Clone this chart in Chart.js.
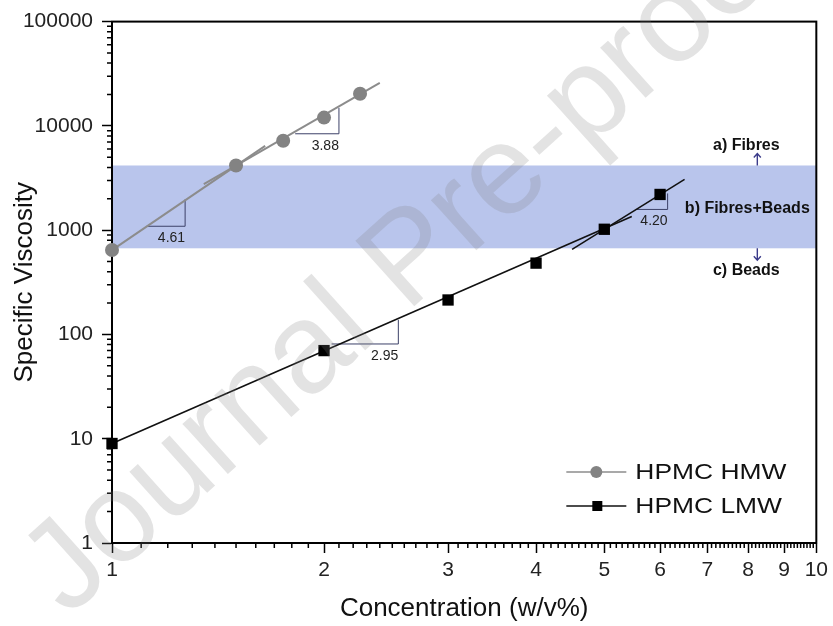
<!DOCTYPE html>
<html>
<head>
<meta charset="utf-8">
<script src="https://cdn.jsdelivr.net/npm/chart.js@4.4.1/dist/chart.umd.min.js"></script>
<style>
  html, body { margin: 0; padding: 0; background: #fff; }
  #wrap { width: 833px; height: 626px; }
</style>
</head>
<body>
<div id="wrap"><canvas id="chart"></canvas></div>
<script>
/* data */
const hmwConc = [1, 1.5, 1.75, 2, 2.25];
const hmwVisc = [645, 4170, 7200, 12000, 20300];
const lmwConc = [1, 2, 3, 4, 5, 6];
const lmwVisc = [9, 70, 214, 483, 1020, 2200];

// fitted power-law segments (start / end as drawn)
const fitHmwLowX = [1, 1.65];
const fitHmwLowY = [643, 6420];
const fitHmwHighX = [1.35, 2.4];
const fitHmwHighY = [2770, 25800];
const fitLmwLowX = [1, 5.47];
const fitLmwLowY = [9, 1354];
const fitLmwHighX = [4.5, 6.5];
const fitLmwHighY = [655, 3070];

// slope triangles: [left, corner, top]
const slopeLabels = ['4.61', '3.88', '2.95', '4.20'];
const slopeTriX = [[1.12, 1.27, 1.27], [1.82, 2.1, 2.1], [2.05, 2.55, 2.55], [5.55, 6.15, 6.15]];
const slopeTriY = [[1090, 1090, 1970], [8400, 8400, 14900], [81, 81, 138], [1580, 1580, 2250]];

const bandLow = 670;
const bandHigh = 4170;
const regionLabels = ['a) Fibres', 'b) Fibres+Beads', 'c) Beads'];

const xMajor = [1, 2, 3, 4, 5, 6, 7, 8, 9, 10];
const yMajor = [1, 10, 100, 1000, 10000, 100000];

const FONT = 'Arial, "Liberation Sans", sans-serif';
const toPts = (xs, ys) => xs.map((x, i) => ({ x: x, y: ys[i] }));

function lineSet(xs, ys, color, width) {
    return {
        data: toPts(xs, ys), showLine: true, borderColor: color, borderWidth: width,
        pointRadius: 0, fill: false, clip: false
    };
}

const markerSets = [
    { label: 'HPMC HMW', data: toPts(hmwConc, hmwVisc), pointStyle: 'circle', pointRadius: 7,
      backgroundColor: '#838383', borderColor: '#838383', borderWidth: 0, showLine: false, clip: false, lineColor: '#8c8c8c' },
    { label: 'HPMC LMW', data: toPts(lmwConc, lmwVisc), pointStyle: 'rect', pointRadius: 8,
      backgroundColor: '#000', borderColor: '#000', borderWidth: 0, showLine: false, clip: false, lineColor: '#111' }
];

const datasets = markerSets.concat([
    lineSet(fitHmwLowX, fitHmwLowY, '#8c8c8c', 2),
    lineSet(fitHmwHighX, fitHmwHighY, '#8c8c8c', 2),
    lineSet(fitLmwLowX, fitLmwLowY, '#111', 1.6),
    lineSet(fitLmwHighX, fitLmwHighY, '#111', 1.6)
]);
slopeTriX.forEach((xs, i) => datasets.push(lineSet(xs, slopeTriY[i], '#3c4168', 1)));

/* === background band, frame, minor ticks === */
const backdrop = {
    id: 'backdrop',
    beforeDatasetsDraw(chart) {
        const { ctx, chartArea: a, scales: { x, y } } = chart;
        ctx.save();
        const yTop = y.getPixelForValue(bandHigh), yBot = y.getPixelForValue(bandLow);
        ctx.fillStyle = '#b9c5ec';
        ctx.fillRect(a.left, yTop, a.right - a.left, yBot - yTop);

        ctx.strokeStyle = '#000';
        ctx.lineWidth = 2;
        ctx.strokeRect(a.left, a.top, a.right - a.left, a.bottom - a.top);

        ctx.lineWidth = 1.5;
        ctx.beginPath();
        for (let d = 1; d < 10; d++) {
            for (let k = 1; k < 10; k++) {
                const px = x.getPixelForValue(d + k / 10);
                ctx.moveTo(px, a.bottom);
                ctx.lineTo(px, a.bottom + 5);
            }
        }
        for (let e = 0; e < 5; e++) {
            for (let k = 2; k < 10; k++) {
                const py = y.getPixelForValue(k * Math.pow(10, e));
                ctx.moveTo(a.left, py);
                ctx.lineTo(a.left - 5, py);
            }
        }
        ctx.stroke();
        ctx.restore();
    }
};

/* === slope labels, region notes, legend, watermark === */
const overlay = {
    id: 'overlay',
    afterDraw(chart) {
        const { ctx, chartArea: a, scales: { x, y } } = chart;
        ctx.save();

        // slope values under each triangle
        ctx.fillStyle = '#222';
        ctx.font = '14px ' + FONT;
        ctx.textAlign = 'right';
        ctx.textBaseline = 'middle';
        slopeLabels.forEach((t, i) => {
            const cx = x.getPixelForValue(slopeTriX[i][1]);
            const cy = y.getPixelForValue(slopeTriY[i][1]);
            ctx.fillText(t, cx, cy + 12);
        });

        // region notes at the right
        const yTop = y.getPixelForValue(bandHigh), yBot = y.getPixelForValue(bandLow);
        const nx = a.right - 70;
        ctx.fillStyle = '#111';
        ctx.font = 'bold 16px ' + FONT;
        ctx.textAlign = 'center';
        ctx.fillText(regionLabels[0], nx, yTop - 20);
        ctx.fillText(regionLabels[1], nx + 1, (yTop + yBot) / 2 + 2);
        ctx.fillText(regionLabels[2], nx, yBot + 22);

        // little arrows pointing out of the band
        ctx.strokeStyle = '#3b3b8a';
        ctx.lineWidth = 1.4;
        const ax = a.right - 59;
        ctx.beginPath();
        ctx.moveTo(ax, yTop); ctx.lineTo(ax, yTop - 12);
        ctx.moveTo(ax - 3.5, yTop - 8); ctx.lineTo(ax, yTop - 12); ctx.lineTo(ax + 3.5, yTop - 8);
        ctx.moveTo(ax, yBot); ctx.lineTo(ax, yBot + 12);
        ctx.moveTo(ax - 3.5, yBot + 8); ctx.lineTo(ax, yBot + 12); ctx.lineTo(ax + 3.5, yBot + 8);
        ctx.stroke();

        // legend
        const lx = a.right - 250, ly0 = a.bottom - 71, gap = 34;
        markerSets.forEach((ds, i) => {
            const ly = ly0 + i * gap;
            ctx.strokeStyle = ds.lineColor;
            ctx.lineWidth = 1.3;
            ctx.beginPath();
            ctx.moveTo(lx, ly); ctx.lineTo(lx + 60, ly);
            ctx.stroke();
            ctx.fillStyle = ds.backgroundColor;
            if (ds.pointStyle === 'circle') {
                ctx.beginPath(); ctx.arc(lx + 30, ly, 6, 0, Math.PI * 2); ctx.fill();
            } else {
                ctx.fillRect(lx + 26, ly - 5, 10, 10);
            }
            ctx.save();
            ctx.translate(lx + 69, ly);
            ctx.scale(1.2, 1);
            ctx.fillStyle = '#111';
            ctx.font = '22px ' + FONT;
            ctx.textAlign = 'left';
            ctx.fillText(ds.label, 0, 1);
            ctx.restore();
        });

        // watermark
        ctx.save();
        ctx.translate(68, 618);
        ctx.rotate(-42 * Math.PI / 180);
        ctx.fillStyle = 'rgba(128,128,128,0.22)';
        ctx.font = '128px ' + FONT;
        ctx.textAlign = 'left';
        ctx.textBaseline = 'alphabetic';
        ctx.fillText('Journal Pre-proof', 0, 0);
        ctx.restore();

        ctx.restore();
    }
};

new Chart(document.getElementById('chart'), {
    type: 'scatter',
    data: { datasets: datasets },
    options: {
        responsive: true,
        maintainAspectRatio: false,
        animation: false,
        layout: { padding: { top: 20, right: 15, left: 0, bottom: 0 } },
        plugins: { legend: { display: false }, tooltip: { enabled: false } },
        scales: {
            x: {
                type: 'logarithmic', min: 1, max: 10,
                afterBuildTicks: s => { s.ticks = xMajor.map(v => ({ value: v })); },
                afterFit: s => { s.height = 83; },
                grid: { drawOnChartArea: false, tickLength: 10, tickWidth: 1.5, tickColor: '#000' },
                border: { color: '#000', width: 2 },
                ticks: {
                    autoSkip: false, maxRotation: 0, padding: 5, color: '#222',
                    font: { family: FONT, size: 21 },
                    callback: v => String(v)
                },
                title: {
                    display: true, text: 'Concentration (w/v%)', color: '#111',
                    font: { family: FONT, size: 26 },
                    padding: { top: 0, bottom: 2 }
                }
            },
            y: {
                type: 'logarithmic', min: 1, max: 100000,
                afterBuildTicks: s => { s.ticks = yMajor.map(v => ({ value: v })); },
                afterFit: s => { s.width = 112; },
                grid: { drawOnChartArea: false, tickLength: 10, tickWidth: 1.5, tickColor: '#000' },
                border: { color: '#000', width: 2 },
                ticks: {
                    autoSkip: false, padding: 9, color: '#222',
                    font: { family: FONT, size: 21 },
                    callback: v => String(v)
                },
                title: {
                    display: true, text: 'Specific Viscosity', color: '#111',
                    font: { family: FONT, size: 26 },
                    padding: { top: 9, bottom: 0 }
                }
            }
        }
    },
    plugins: [backdrop, overlay]
});
</script>
</body>
</html>
